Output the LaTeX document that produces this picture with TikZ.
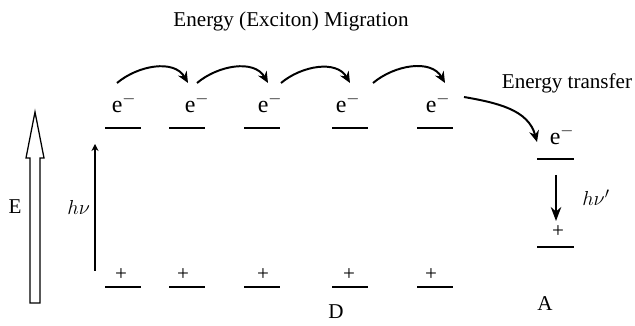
\documentclass[tikz,border=0pt]{standalone}
\usepackage{fontspec}
\setmainfont{Liberation Serif}
\usetikzlibrary{arrows.meta,positioning}

\begin{document}
\begin{tikzpicture}[
      x=0.025cm, y=0.025cm,
      every node/.style={font=\fontsize{15}{18}\selectfont, inner sep=1pt},
      elec/.style={font=\fontsize{17}{20}\selectfont},
      lvl/.style={line width=1.6pt},
      acc/.style={line width=1.2pt},
      hop/.style={draw, -{Stealth[length=8pt,width=7pt]}, line width=1.4pt},
      photon/.style={draw, -{Stealth[length=5pt,width=5pt]}, line width=1.2pt},
      emit/.style={draw, -{Stealth[length=10pt,width=7.5pt]}, line width=1.2pt},
      hollow/.style={draw, line width=0.9pt, fill=white}
    ]
    \useasboundingbox (0,0) rectangle (635,326);
    \node (title) at (291,305) {Energy (Exciton) Migration};
    % donor levels
    \foreach \i/\x/\ex/\px in {1/123/124/121,2/187/197/183,3/262/270/263,4/350/348/349,5/435/438/431} {
        \draw[lvl] (\x-18,198) -- (\x+18,198);
        \draw[lvl] (\x-18,39) -- (\x+18,39);
        \node[elec] (e\i) at (\ex,223) {e$^{-}$};
        \node (p\i) at (\px,51) {+};
    }
    \foreach \a/\b/\sa/\sb in {1/2/-7/-9,2/3/0/-2,3/4/11/2,4/5/25/7}
        \draw[hop] ([shift={(\sa,20)}]e\a.center) to[out=40,in=120] ([shift={(\sb,20)}]e\b.center);
    \node (D) at (336,14) {D};
    % acceptor
    \draw[acc] (537,167) -- (574,167);
    \draw[acc] (537,79) -- (574,79);
    \node[elec] (eA) at (562,191) {e$^{-}$};
    \node (pA) at (558,94) {+};
    \node (A) at (545,22) {A};
    \node (et) at (567,243) {Energy transfer};
    \draw[hop] ([shift={(26,6)}]e5.center) to[out=-10,in=105] ([shift={(-25,-7)}]eA.center);
    \coordinate (emt) at (556,151);
    \coordinate (emb) at (556,105);
    \draw[emit] (emt) -- (emb) node[midway, right=0.6cm] {$h\nu'$};
    % excitation
    \coordinate (abb) at (95,55);
    \coordinate (abt) at (95,182);
    \draw[photon] (abb) -- (abt) node[midway, left=2pt] {$h\nu$};
    % energy axis
    \draw[hollow] (30,23) -- (30,168) -- (26,168) -- (35,214) -- (44,168) -- (40,168) -- (40,23) -- cycle;
    \node (E) at (15,119) {E};
\end{tikzpicture}
\end{document}
